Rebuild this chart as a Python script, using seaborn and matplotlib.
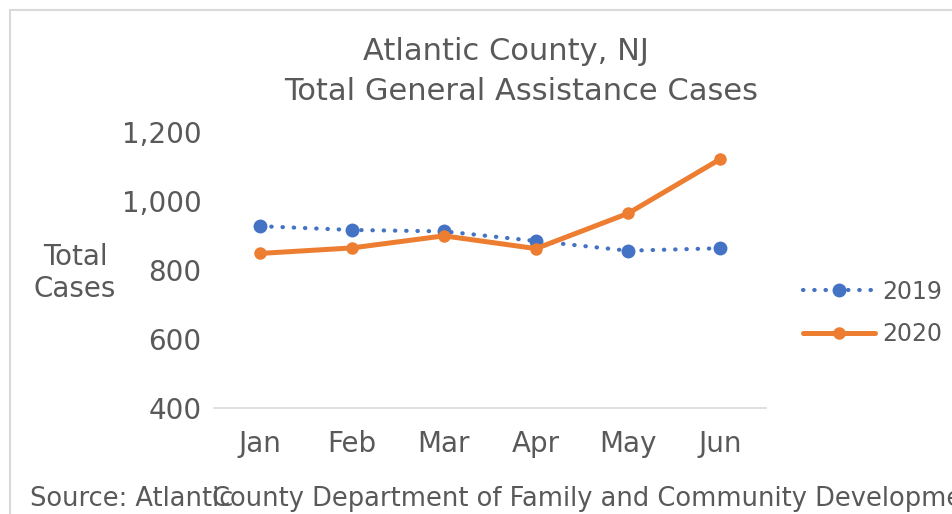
import matplotlib
matplotlib.use("Agg")
import matplotlib.pyplot as plt
import seaborn as sns
import pandas as pd
from matplotlib.lines import Line2D

months = ["Jan", "Feb", "Mar", "Apr", "May", "Jun"]
cases_2019 = [927, 916, 912, 884, 856, 863]
cases_2020 = [848, 864, 899, 862, 964, 1121]
series_names = ["2019", "2020"]
y_ticks = [400, 600, 800, 1000, 1200]

BLUE = "#4472C4"
ORANGE = "#ED7D31"
GREY = "#595959"

df = pd.DataFrame({
    "month": months * 2,
    "cases": cases_2019 + cases_2020,
    "year": [series_names[0]] * 6 + [series_names[1]] * 6,
})

sns.set_theme(style="white")
plt.rcParams["font.family"] = ["DejaVu Sans"]

fig = plt.figure(figsize=(9.52, 5.14), dpi=100)
ax = fig.add_axes([214 / 952, 1 - 408 / 514, 552 / 952, 276 / 514])

sns.lineplot(data=df, x="month", y="cases", hue="year",
             palette={"2019": BLUE, "2020": ORANGE}, sort=False,
             ax=ax, legend=False)

l19, l20 = ax.get_lines()[:2]
l19.set_linewidth(3)
l19.set_linestyle((0, (0.1, 2.6)))
l19.set_dash_capstyle("round")
l19.set_marker("o")
l19.set_markersize(10)
l19.set_markeredgewidth(0)
l20.set_linewidth(3.6)
l20.set_marker("o")
l20.set_markersize(9)
l20.set_markeredgewidth(0)
l20.set_solid_capstyle("round")

ax.set_xlim(-0.5, 5.5)
ax.set_ylim(400, 1200)
ax.set_yticks(y_ticks)
ax.set_yticklabels([f"{v:,}" for v in y_ticks])
ax.set_xlabel("")
ax.set_ylabel("")
for s in ["top", "right", "left"]:
    ax.spines[s].set_visible(False)
ax.spines["bottom"].set_color("#D9D9D9")
ax.spines["bottom"].set_linewidth(1.2)
ax.tick_params(axis="both", length=0, colors=GREY, labelsize=20)
ax.tick_params(axis="y", pad=9)
ax.tick_params(axis="x", pad=16)
ax.grid(False)
ax.patch.set_alpha(0)

fig.text(506 / 952, 1 - 60 / 514, "Atlantic County, NJ", ha="center", va="baseline",
         fontsize=22, color=GREY)
fig.text(521 / 952, 1 - 100 / 514, "Total General Assistance Cases", ha="center", va="baseline",
         fontsize=22, color=GREY)
fig.text(75 / 952, 1 - 273 / 514, "Total\nCases", ha="center", va="center",
         fontsize=20, color=GREY, linespacing=1.15)

fig.text(30 / 952, 1 - 506 / 514, "Source: Atlantic", ha="left", va="baseline",
         fontsize=18.5, color=GREY)
fig.text(212 / 952, 1 - 506 / 514, "County Department of Family and Community Development",
         ha="left", va="baseline", fontsize=18.5, color=GREY)

h19 = Line2D([], [], color=BLUE, lw=3, linestyle=(0, (0.1, 2.6)), dash_capstyle="round",
             marker="o", markersize=10, markeredgewidth=0)
h20 = Line2D([], [], color=ORANGE, lw=3.6, marker="o", markersize=9, markeredgewidth=0)
fig.legend([h19, h20], series_names, loc="center left",
           bbox_to_anchor=(794 / 952, 1 - 313 / 514), frameon=False,
           fontsize=17, labelcolor=GREY, handlelength=3.05, handletextpad=0.3,
           labelspacing=0.8, borderaxespad=0)

fig.add_artist(Line2D([10 / 952, 10 / 952], [0, 1 - 10 / 514], transform=fig.transFigure,
                      color="#D9D9D9", lw=1.5))
fig.add_artist(Line2D([10 / 952, 1], [1 - 10 / 514, 1 - 10 / 514], transform=fig.transFigure,
                      color="#D9D9D9", lw=1.5))

fig.savefig("out.png", dpi=100, facecolor="white")
